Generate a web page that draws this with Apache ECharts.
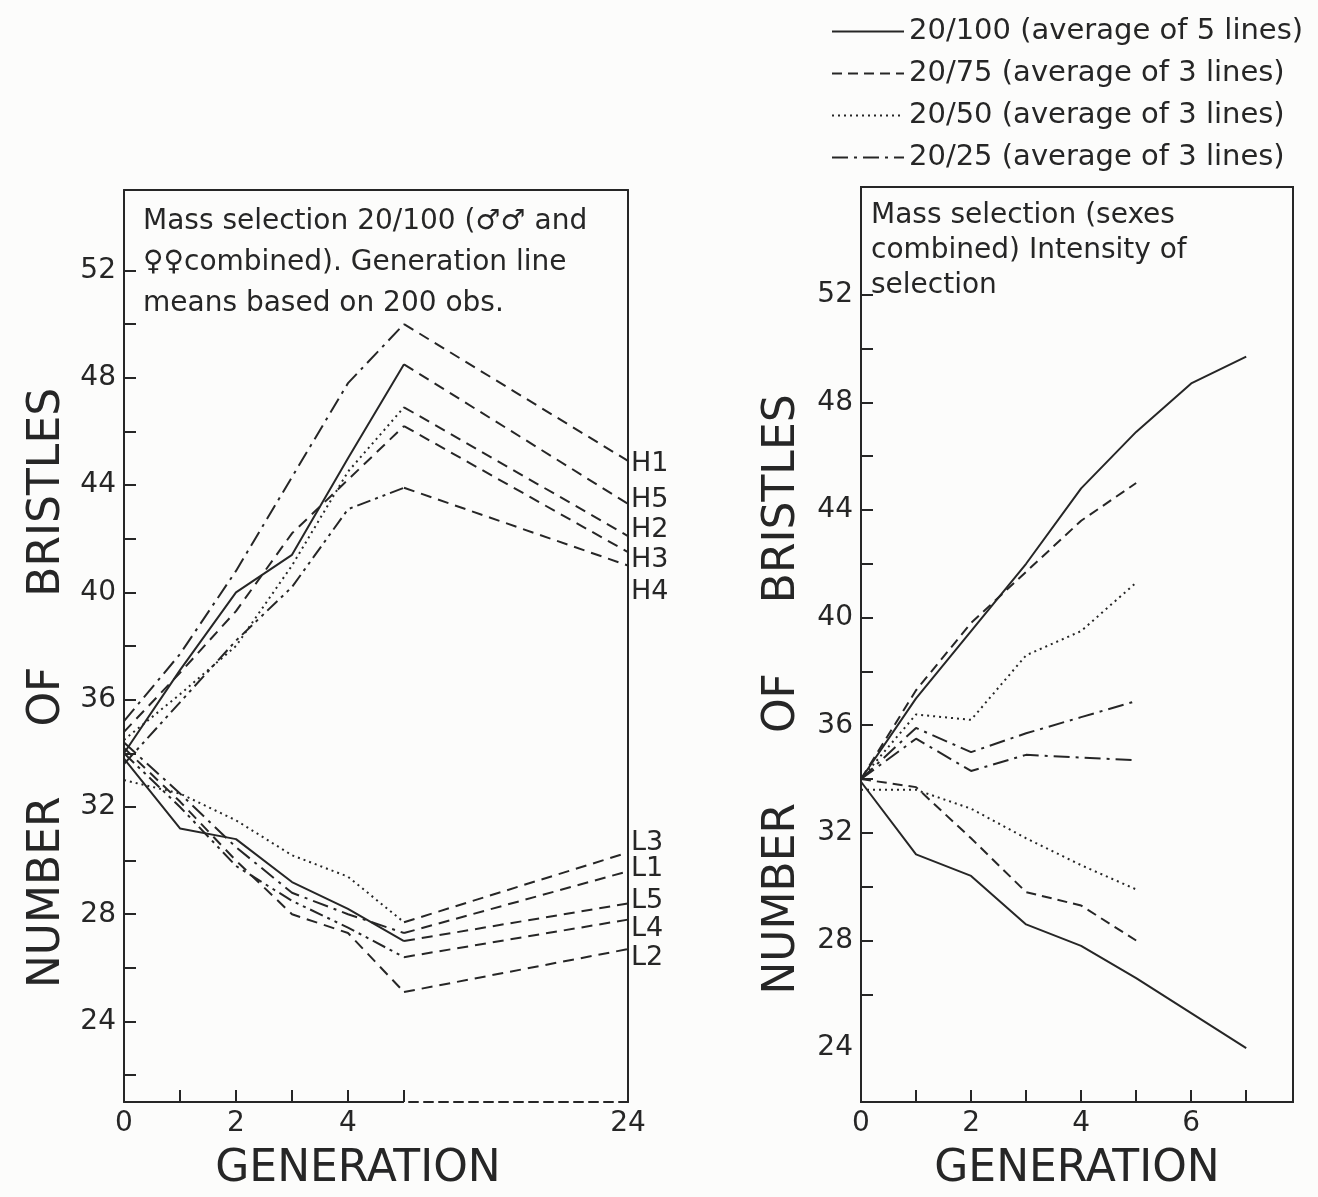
<!DOCTYPE html>
<html>
<head>
<meta charset="utf-8">
<title>Mass selection - number of bristles</title>
<script src="https://cdn.jsdelivr.net/npm/echarts@6.0.0/dist/echarts.min.js"></script>
<style>
  html, body { margin: 0; padding: 0; background: #fcfcfb; }
  #chart { width: 1318px; height: 1197px; }
</style>
</head>
<body>
<div id="chart"></div>
<script>
// ---- left panel: 20/100, single lines, generations 0-5 and 24 ----
var leftGens = [0, 1, 2, 3, 4, 5, 24];
var H1 = [35.2, 37.7, 40.8, 44.3, 47.8, 50.0, 44.9];
var H2 = [34.5, 36.2, 38.0, 41.0, 44.5, 46.9, 42.1];
var H3 = [34.8, 37.0, 39.3, 42.2, 44.2, 46.2, 41.5];
var H4 = [33.6, 35.9, 38.2, 40.2, 43.1, 43.9, 41.0];
var H5 = [34.0, 37.1, 40.0, 41.4, 45.0, 48.5, 43.3];
var L1 = [34.4, 32.5, 30.5, 28.8, 28.0, 27.3, 29.6];
var L2 = [34.2, 32.2, 30.0, 28.0, 27.3, 25.1, 26.7];
var L3 = [33.0, 32.5, 31.5, 30.2, 29.4, 27.7, 30.3];
var L4 = [34.0, 32.0, 29.8, 28.5, 27.5, 26.4, 27.8];
var L5 = [33.8, 31.2, 30.8, 29.2, 28.2, 27.0, 28.4];
var leftNames = ['H1', 'H2', 'H3', 'H4', 'H5', 'L1', 'L2', 'L3', 'L4', 'L5'];
var leftValues = [H1, H2, H3, H4, H5, L1, L2, L3, L4, L5];
var leftDash = ['dashdot', 'dotted', 'dashed', 'dashdotdot', 'solid',
                'dashdot', 'dashed', 'dotted', 'dashdotdot', 'solid'];
var leftLabelShift = [3, -6, 8, 26, -4, -2, 9, -10, 9, -3];
var leftYTicks = [22, 24, 26, 28, 30, 32, 34, 36, 38, 40, 42, 44, 46, 48, 50, 52];
var leftYLabels = [24, 28, 32, 36, 40, 44, 48, 52];

// ---- right panel: intensity of selection, generations 0-7 ----
var rightGens = [0, 1, 2, 3, 4, 5, 6, 7];
var up100 = [34.0, 37.0, 39.5, 42.0, 44.8, 46.9, 48.7, 49.7];
var down100 = [33.9, 31.2, 30.4, 28.6, 27.8, 26.6, 25.3, 24.0];
var up75 = [34.0, 37.3, 39.8, 41.7, 43.6, 45.0];
var down75 = [34.0, 33.7, 31.8, 29.8, 29.3, 28.0];
var up50 = [34.0, 36.4, 36.2, 38.6, 39.5, 41.3];
var down50 = [33.6, 33.6, 32.9, 31.8, 30.8, 29.9];
var up25 = [34.0, 35.9, 35.0, 35.7, 36.3, 36.9];
var down25 = [34.0, 35.5, 34.3, 34.9, 34.8, 34.7];
var legendNames = ['20/100 (average of 5 lines)', '20/75 (average of 3 lines)',
                   '20/50 (average of 3 lines)', '20/25 (average of 3 lines)'];
var rightYTicks = [26, 28, 30, 32, 34, 36, 38, 40, 42, 44, 46, 48, 50, 52];
var rightYLabels = [24, 28, 32, 36, 40, 44, 48, 52];

var INK = '#262626';
var FONT = 'DejaVu Sans';
var DASH = {
  solid: 'solid',
  dashed: [11, 7],
  dotted: [2, 4],
  dashdot: [16, 6, 3, 6],
  dashdotdot: [14, 5, 3, 5, 3, 5]
};

// generations 5..24 are squeezed into the last part of the left axis (broken axis)
function brk(g) { return g <= 5 ? g : 5 + (g - 5) * 4 / 19; }
function unbrk(v) { return v <= 5 ? v : Math.round(5 + (v - 5) * 19 / 4); }

var series = [];

leftValues.forEach(function (vals, i) {
  var pts = leftGens.map(function (g, k) { return [brk(g), vals[k]]; });
  var first = {
    name: leftNames[i], type: 'line', xAxisIndex: 0, yAxisIndex: 0,
    data: pts.slice(0, 6), symbol: 'none', silent: true,
    itemStyle: { color: INK },
    lineStyle: { color: INK, width: 2, type: DASH[leftDash[i]] }
  };
  if (i === 4) {
    // solid part of the bottom axis (generations 0-5)
    first.markLine = {
      silent: true, symbol: 'none', label: { show: false },
      lineStyle: { color: INK, width: 2, type: 'solid' },
      data: [[{ coord: [0, 21] }, { coord: [5, 21] }]]
    };
  }
  series.push(first);
  series.push({
    name: leftNames[i], type: 'line', xAxisIndex: 0, yAxisIndex: 0,
    data: pts.slice(5), symbol: 'none', silent: true,
    itemStyle: { color: INK },
    lineStyle: { color: INK, width: 2, type: [11, 7] },
    endLabel: {
      show: true, formatter: leftNames[i], color: INK, fontFamily: FONT,
      fontSize: 27, distance: 3, offset: [0, leftLabelShift[i]]
    }
  });
});

var rightSets = [
  [up100, down100, 'solid'],
  [up75, down75, [10, 6]],
  [up50, down50, [2, 4]],
  [up25, down25, [16, 6, 3, 6]]
];
rightSets.forEach(function (set, i) {
  [set[0], set[1]].forEach(function (vals) {
    series.push({
      name: legendNames[i], type: 'line', xAxisIndex: 2, yAxisIndex: 2,
      data: vals.map(function (v, k) { return [rightGens[k], v]; }),
      symbol: 'none', silent: true,
      itemStyle: { color: INK },
      lineStyle: { color: INK, width: 2, type: set[2] }
    });
  });
});

var tickLabel = { color: INK, fontSize: 28, fontFamily: FONT };
var axisTitle = { color: INK, fontSize: 44, fontFamily: FONT };

var option = {
  backgroundColor: '#fcfcfb',
  animation: false,
  textStyle: { fontFamily: FONT },
  title: [
    {
      text: 'Mass selection 20/100 (\u2642\u2642 and\n\u2640\u2640combined). Generation line\nmeans based on 200 obs.',
      left: 138, top: 196,
      textStyle: { color: INK, fontSize: 28, fontWeight: 'normal', fontFamily: FONT, lineHeight: 41 }
    },
    {
      text: 'Mass selection (sexes\ncombined) Intensity of\nselection',
      left: 866, top: 193,
      textStyle: { color: INK, fontSize: 28, fontWeight: 'normal', fontFamily: FONT, lineHeight: 35 }
    }
  ],
  legend: {
    data: legendNames, orient: 'vertical', left: 826, top: 12,
    itemWidth: 72, itemHeight: 16, itemGap: 13,
    itemStyle: { opacity: 0 },
    textStyle: { color: INK, fontSize: 29, fontFamily: FONT }
  },
  grid: [
    { left: 124, top: 190, width: 504, height: 913 },
    { left: 861, top: 187, width: 432, height: 916, show: true, borderColor: INK, borderWidth: 2 }
  ],
  xAxis: [
    {
      gridIndex: 0, type: 'value', min: 0, max: brk(24),
      axisLine: { show: true, onZero: false, lineStyle: { color: INK, width: 2, type: [9, 6] } },
      axisTick: { show: true, inside: true, length: 12, customValues: [1, 2, 3, 4, 5], lineStyle: { color: INK, width: 2 } },
      axisLabel: Object.assign({ customValues: [0, 2, 4, brk(24)], margin: 8,
        formatter: function (v) { return String(unbrk(v)); } }, tickLabel),
      splitLine: { show: false },
      name: 'GENERATION', nameLocation: 'middle', nameGap: 46,
      nameTextStyle: Object.assign({ padding: [0, 36, 0, 0] }, axisTitle)
    },
    {
      gridIndex: 0, type: 'value', position: 'top', min: 0, max: brk(24),
      axisLine: { show: true, onZero: false, lineStyle: { color: INK, width: 2 } },
      axisTick: { show: false }, axisLabel: { show: false }, splitLine: { show: false }
    },
    {
      gridIndex: 1, type: 'value', min: 0, max: 7.85,
      axisLine: { show: true, onZero: false, lineStyle: { color: INK, width: 2 } },
      axisTick: { show: true, inside: true, length: 12, customValues: [1, 2, 3, 4, 5, 6, 7], lineStyle: { color: INK, width: 2 } },
      axisLabel: Object.assign({ customValues: [0, 2, 4, 6], margin: 8 }, tickLabel),
      splitLine: { show: false },
      name: 'GENERATION', nameLocation: 'middle', nameGap: 46,
      nameTextStyle: axisTitle
    }
  ],
  yAxis: [
    {
      gridIndex: 0, type: 'value', min: 21, max: 55,
      axisLine: { show: true, onZero: false, lineStyle: { color: INK, width: 2 } },
      axisTick: { show: true, inside: true, length: 12, customValues: leftYTicks, lineStyle: { color: INK, width: 2 } },
      axisLabel: Object.assign({ customValues: leftYLabels, margin: 8 }, tickLabel),
      splitLine: { show: false },
      name: 'NUMBER     OF     BRISTLES', nameLocation: 'middle', nameGap: 54,
      nameTextStyle: Object.assign({ padding: [0, 84, 0, 0] }, axisTitle)
    },
    {
      gridIndex: 0, type: 'value', position: 'right', min: 21, max: 55,
      axisLine: { show: true, onZero: false, lineStyle: { color: INK, width: 2 } },
      axisTick: { show: false }, axisLabel: { show: false }, splitLine: { show: false }
    },
    {
      gridIndex: 1, type: 'value', min: 22, max: 56,
      axisLine: { show: true, onZero: false, lineStyle: { color: INK, width: 2 } },
      axisTick: { show: true, inside: true, length: 12, customValues: rightYTicks, lineStyle: { color: INK, width: 2 } },
      axisLabel: Object.assign({ customValues: rightYLabels, margin: 8 }, tickLabel),
      splitLine: { show: false },
      name: 'NUMBER     OF     BRISTLES', nameLocation: 'middle', nameGap: 56,
      nameTextStyle: Object.assign({ padding: [0, 100, 0, 0] }, axisTitle)
    }
  ],
  series: series
};

var chart = echarts.init(document.getElementById('chart'));
chart.setOption(option);
</script>
</body>
</html>
